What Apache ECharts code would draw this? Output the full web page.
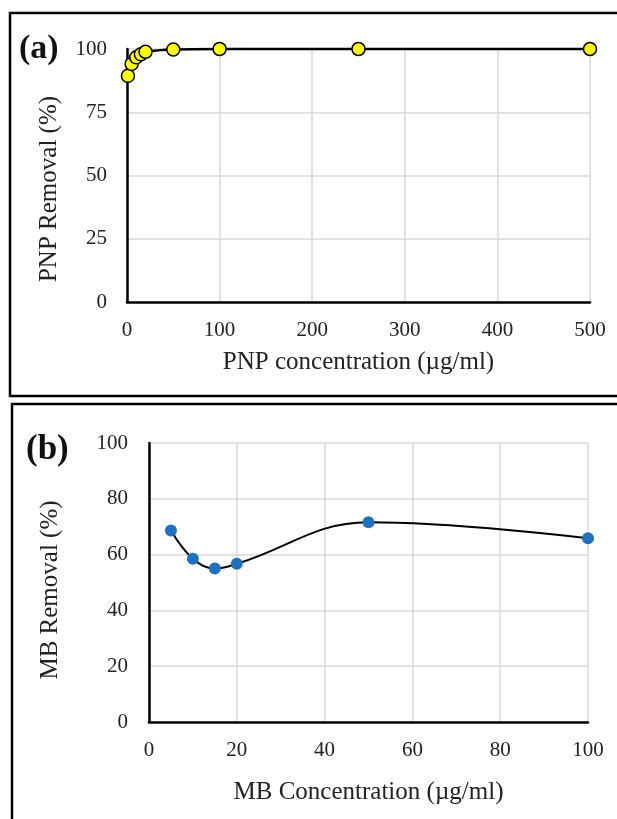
<!DOCTYPE html>
<html>
<head>
<meta charset="utf-8">
<script src="https://cdn.jsdelivr.net/npm/echarts@6/dist/echarts.min.js"></script>
<style>
  html, body { margin: 0; padding: 0; background: #fff; }
  #chart { width: 617px; height: 819px; }
</style>
</head>
<body>
<div id="chart"></div>
<script>
// Panel (a): PNP removal vs concentration
var pnpConc = [1, 5, 10, 15, 20, 50, 100, 250, 500];
var pnpRemoval = [89.4, 94.1, 96.7, 97.9, 98.9, 99.8, 100, 100, 100];
var pnpXTicks = [0, 100, 200, 300, 400, 500];
var pnpYTicks = [0, 25, 50, 75, 100];

// Panel (b): MB removal vs concentration
var mbConc = [5, 10, 15, 20, 50, 100];
var mbRemoval = [68.6, 58.5, 55.0, 56.7, 71.6, 65.9];
var mbXTicks = [0, 20, 40, 60, 80, 100];
var mbYTicks = [0, 20, 40, 60, 80, 100];

var FONT = "'Liberation Serif', 'Times New Roman', serif";

function pairs(xs, ys) {
  return xs.map(function (x, i) { return [x, ys[i]]; });
}

function valueAxis(ticks, extra) {
  var base = {
    type: 'value',
    min: ticks[0],
    max: ticks[ticks.length - 1],
    interval: ticks[1] - ticks[0],
    axisLine: { show: true, onZero: false, lineStyle: { color: '#000', width: 2.5 } },
    axisTick: { show: false },
    splitLine: { show: true, lineStyle: { color: '#d9d9d9', width: 1.5 } },
    axisLabel: { color: '#222', fontFamily: FONT, fontSize: 21 },
    nameLocation: 'middle',
    nameTextStyle: { color: '#222', fontFamily: FONT, fontSize: 25 }
  };
  for (var k in extra) base[k] = extra[k];
  return base;
}

// rotated y-axis title drawn as a graphic text element
function yTitle(text, cx, cy) {
  return {
    type: 'text',
    x: cx, y: cy,
    rotation: Math.PI / 2,
    style: {
      text: text, font: '25px ' + FONT, fill: '#222',
      align: 'center', verticalAlign: 'middle'
    },
    silent: true
  };
}

var chart = echarts.init(document.getElementById('chart'), null, { renderer: 'canvas' });

chart.setOption({
  backgroundColor: '#fff',
  animation: false,
  grid: [
    { left: 127, top: 49, width: 463, height: 253, containLabel: false },
    { left: 149, top: 443, width: 439, height: 279, containLabel: false }
  ],
  xAxis: [
    valueAxis(pnpXTicks, {
      gridIndex: 0, name: 'PNP concentration (\u00b5g/ml)', nameGap: 48,
      axisLabel: { color: '#222', fontFamily: FONT, fontSize: 21, margin: 18 }
    }),
    valueAxis(mbXTicks, {
      gridIndex: 1, name: 'MB Concentration (\u00b5g/ml)', nameGap: 58,
      axisLabel: { color: '#222', fontFamily: FONT, fontSize: 21, margin: 18 }
    })
  ],
  yAxis: [
    valueAxis(pnpYTicks, {
      gridIndex: 0,
      axisLabel: { color: '#222', fontFamily: FONT, fontSize: 21, margin: 20 }
    }),
    valueAxis(mbYTicks, {
      gridIndex: 1,
      axisLabel: { color: '#222', fontFamily: FONT, fontSize: 21, margin: 21 }
    })
  ],
  series: [
    {
      type: 'line',
      xAxisIndex: 0, yAxisIndex: 0,
      data: pairs(pnpConc, pnpRemoval),
      smooth: 0.3,
      lineStyle: { color: '#000', width: 2.5 },
      symbol: 'circle',
      symbolSize: 13,
      itemStyle: { color: '#ffff00', borderColor: '#000', borderWidth: 1.5 },
      clip: false,
      z: 5
    },
    {
      type: 'line',
      xAxisIndex: 1, yAxisIndex: 1,
      data: pairs(mbConc, mbRemoval),
      smooth: 0.4,
      lineStyle: { color: '#000', width: 2 },
      symbol: 'circle',
      symbolSize: 12,
      itemStyle: { color: '#1f70c1', borderWidth: 0 },
      clip: false,
      z: 5
    }
  ],
  graphic: [
    {
      type: 'rect',
      shape: { x: 10, y: 13, width: 620, height: 383 },
      style: { fill: null, stroke: '#000', lineWidth: 2.5 },
      silent: true
    },
    {
      type: 'rect',
      shape: { x: 12, y: 404, width: 620, height: 430 },
      style: { fill: null, stroke: '#000', lineWidth: 2.5 },
      silent: true
    },
    yTitle('PNP Removal (%)', 49, 189),
    yTitle('MB Removal (%)', 50, 590),
    {
      type: 'text',
      left: 19, top: 32,
      style: { text: '(a)', font: 'bold 34px ' + FONT, fill: '#111' }
    },
    {
      type: 'text',
      left: 26, top: 432,
      style: { text: '(b)', font: 'bold 35px ' + FONT, fill: '#111' }
    }
  ]
});
</script>
</body>
</html>
